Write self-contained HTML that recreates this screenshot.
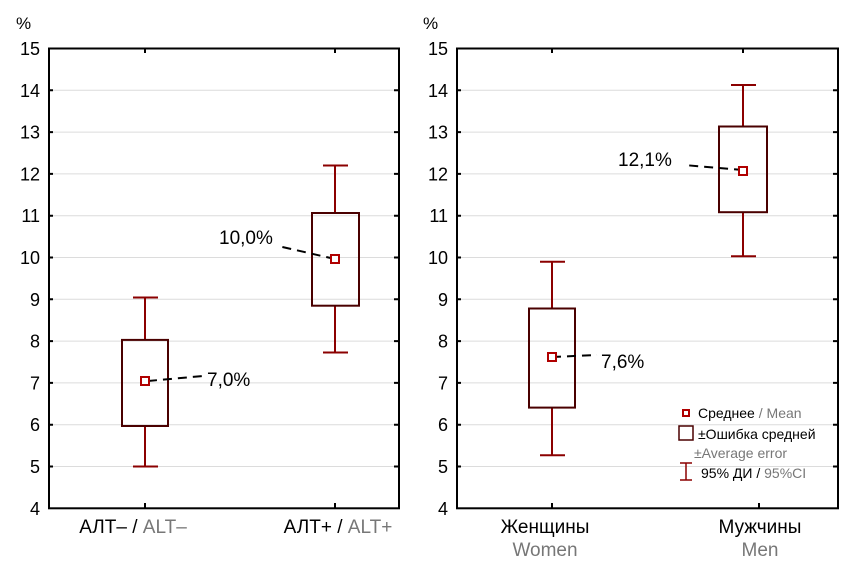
<!DOCTYPE html>
<html><head><meta charset="utf-8"><style>
body{margin:0;background:#fff}
svg{display:block;font-family:"Liberation Sans",sans-serif}
</style></head><body>
<svg width="861" height="568" viewBox="0 0 861 568" xmlns="http://www.w3.org/2000/svg">
<g stroke="#dcdcdc" stroke-width="1">
<line x1="49" x2="399" y1="90.3" y2="90.3"/><line x1="49" x2="399" y1="132.1" y2="132.1"/><line x1="49" x2="399" y1="173.9" y2="173.9"/><line x1="49" x2="399" y1="215.7" y2="215.7"/><line x1="49" x2="399" y1="257.5" y2="257.5"/><line x1="49" x2="399" y1="299.3" y2="299.3"/><line x1="49" x2="399" y1="341.1" y2="341.1"/><line x1="49" x2="399" y1="382.9" y2="382.9"/><line x1="49" x2="399" y1="424.7" y2="424.7"/><line x1="49" x2="399" y1="466.5" y2="466.5"/>
<line x1="457" x2="838" y1="90.3" y2="90.3"/><line x1="457" x2="838" y1="132.1" y2="132.1"/><line x1="457" x2="838" y1="173.9" y2="173.9"/><line x1="457" x2="838" y1="215.7" y2="215.7"/><line x1="457" x2="838" y1="257.5" y2="257.5"/><line x1="457" x2="838" y1="299.3" y2="299.3"/><line x1="457" x2="838" y1="341.1" y2="341.1"/><line x1="457" x2="838" y1="382.9" y2="382.9"/><line x1="457" x2="838" y1="424.7" y2="424.7"/><line x1="457" x2="838" y1="466.5" y2="466.5"/>
</g>
<rect x="49" y="48.5" width="350" height="459.8" fill="none" stroke="#000" stroke-width="2"/>
<rect x="457" y="48.5" width="381" height="459.8" fill="none" stroke="#000" stroke-width="2"/>
<g stroke="#000" stroke-width="2">
<line x1="145" x2="145" y1="48" y2="53"/><line x1="335" x2="335" y1="48" y2="53"/>
<line x1="145" x2="145" y1="508" y2="503"/><line x1="335" x2="335" y1="508" y2="503"/>
<line x1="552" x2="552" y1="48" y2="53"/><line x1="743" x2="743" y1="48" y2="53"/>
<line x1="552" x2="552" y1="508" y2="503"/><line x1="759" x2="759" y1="508" y2="503"/>
<path d="M394 90.3h5M394 132.1h5M394 173.9h5M394 215.7h5M394 257.5h5M394 299.3h5M394 341.1h5M394 382.9h5M394 424.7h5M394 466.5h5"/>
<path d="M833 90.3h5M833 132.1h5M833 173.9h5M833 215.7h5M833 257.5h5M833 299.3h5M833 341.1h5M833 382.9h5M833 424.7h5M833 466.5h5"/>
<path d="M49 90.3h4M49 132.1h4M49 173.9h4M49 215.7h4M49 257.5h4M49 299.3h4M49 341.1h4M49 382.9h4M49 424.7h4M49 466.5h4"/>
<path d="M457 90.3h4M457 132.1h4M457 173.9h4M457 215.7h4M457 257.5h4M457 299.3h4M457 341.1h4M457 382.9h4M457 424.7h4M457 466.5h4"/>
</g>
<g font-size="18" fill="#000" text-anchor="end">
<text x="40" y="55">15</text><text x="40" y="96.8">14</text><text x="40" y="138.6">13</text><text x="40" y="180.4">12</text><text x="40" y="222.2">11</text><text x="40" y="264">10</text><text x="40" y="305.8">9</text><text x="40" y="347.6">8</text><text x="40" y="389.4">7</text><text x="40" y="431.2">6</text><text x="40" y="473">5</text><text x="40" y="514.8">4</text>
<text x="448" y="55">15</text><text x="448" y="96.8">14</text><text x="448" y="138.6">13</text><text x="448" y="180.4">12</text><text x="448" y="222.2">11</text><text x="448" y="264">10</text><text x="448" y="305.8">9</text><text x="448" y="347.6">8</text><text x="448" y="389.4">7</text><text x="448" y="431.2">6</text><text x="448" y="473">5</text><text x="448" y="514.8">4</text>
</g>
<text x="16" y="29" font-size="17">%</text>
<text x="423" y="29" font-size="17">%</text>
<g stroke="#8b0000" stroke-width="2" fill="none">
<path d="M145 297.5V340M145 425V466.5M133 297.5h25M133 466.5h25"/>
<path d="M335 165.5V212M335 305V352.5M323 165.5h25M323 352.5h25"/>
<path d="M552 261.7V308M552 407V455.2M540 261.7h25M540 455.2h25"/>
<path d="M743 85V127M743 213V256.3M731 85h25M731 256.3h25"/>
</g>
<g stroke="#4a0000" stroke-width="2" fill="none">
<rect x="122" y="339.9" width="46" height="86.1"/>
<rect x="312" y="213" width="47" height="92.7"/>
<rect x="529" y="308.5" width="46" height="99.1"/>
<rect x="719" y="126.5" width="48" height="85.7"/>
</g>
<g stroke="#000" stroke-width="2" stroke-dasharray="9,6" fill="none">
<path d="M148 381L203 376"/>
<path d="M335 259L278 246"/>
<path d="M552 357L597 355"/>
<path d="M743 170L684 165"/>
</g>
<g stroke="#b00000" stroke-width="2" fill="#fff">
<rect x="141" y="377" width="8" height="8"/>
<rect x="331" y="255" width="8" height="8"/>
<rect x="548" y="353" width="8" height="8"/>
<rect x="739" y="167" width="8" height="8"/>
</g>
<g font-size="19" fill="#000">
<text x="207" y="386">7,0%</text>
<text x="219" y="244">10,0%</text>
<text x="601" y="368">7,6%</text>
<text x="618" y="166">12,1%</text>
</g>
<g font-size="19" text-anchor="middle">
<text x="133" y="533"><tspan fill="#000">АЛТ– / </tspan><tspan fill="#777">ALT–</tspan></text>
<text x="338" y="533"><tspan fill="#000">АЛТ+ / </tspan><tspan fill="#777">ALT+</tspan></text>
<text x="545" y="533" fill="#000">Женщины</text>
<text x="545" y="556" fill="#777">Women</text>
<text x="760" y="533" fill="#000">Мужчины</text>
<text x="760" y="556" fill="#777">Men</text>
</g>
<rect x="683" y="410" width="6" height="6" fill="#fff" stroke="#b00000" stroke-width="2"/>
<text x="698" y="418" font-size="14"><tspan fill="#000">Среднее </tspan><tspan fill="#777"> / Mean</tspan></text>
<rect x="679" y="426" width="14" height="14" fill="none" stroke="#4a0000" stroke-width="1.5"/>
<text x="698" y="439" font-size="14" fill="#000">±Ошибка средней</text>
<text x="694" y="458" font-size="14" fill="#777">±Average error</text>
<path d="M686 463V480M680 463h12M680 480h12" stroke="#8b0000" stroke-width="1.5" fill="none"/>
<text x="701" y="478" font-size="14"><tspan fill="#000">95% ДИ / </tspan><tspan fill="#777">95%CI</tspan></text>
</svg>
</body></html>
